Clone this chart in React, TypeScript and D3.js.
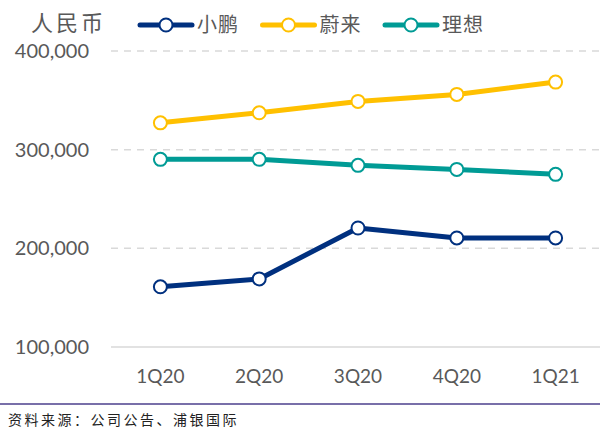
import React, { useEffect } from "react";
import * as d3 from "d3";

const quarters = ["1Q20", "2Q20", "3Q20", "4Q20", "1Q21"];
const xpeng = [161000, 169000, 220600, 210500, 210500];
const nio = [327200, 337400, 348900, 356000, 368500];
const liAuto = [290200, 290200, 284100, 280000, 275000];
const yTicks = [100000, 200000, 300000, 400000];

const seriesNames = ["小鹏", "蔚来", "理想"];
const seriesColors = ["#00307F", "#FFC000", "#009B95"];

const W = 600;
const H = 441;

export default function App() {
  useEffect(() => {
    document.body.style.margin = "0";
  }, []);

  const series = [xpeng, nio, liAuto];

  const x = d3.scalePoint<string>().domain(quarters).range([111, 605]).padding(0.5);
  const y = d3.scaleLinear().domain([100000, 400000]).range([347, 51]);
  const fmt = d3.format(",");

  const line = d3
    .line<number>()
    .x((_, i) => x(quarters[i]) as number)
    .y((d) => y(d));

  const numFont = "Lato, 'Open Sans', sans-serif";
  const cjkFont = "'Noto Sans CJK SC', sans-serif";

  return (
    <svg width={W} height={H} style={{ display: "block", background: "#fff" }}>
      {/* title */}
      <text x={31} y={31} fontFamily={cjkFont} fontSize={22} fill="#595959" letterSpacing={3}>
        人民币
      </text>

      {/* legend */}
      {seriesNames.map((name, i) => {
        const lx = 140 + i * 122.5;
        return (
          <g key={name}>
            <line x1={lx} x2={lx + 52} y1={25} y2={25} stroke={seriesColors[i]} strokeWidth={5} strokeLinecap="round" />
            <circle cx={lx + 26} cy={25} r={6.5} fill="#fff" stroke={seriesColors[i]} strokeWidth={2} />
            <text x={lx + 57} y={32} fontFamily={cjkFont} fontSize={20} fill="#595959" letterSpacing={1}>
              {name}
            </text>
          </g>
        );
      })}

      {/* grid */}
      {yTicks.map((t) => (
        <g key={t}>
          <line
            x1={111}
            x2={W}
            y1={y(t)}
            y2={y(t)}
            stroke="#D9D9D9"
            strokeWidth={1.5}
            strokeDasharray={t === 100000 ? undefined : "7,6"}
          />
          <text x={89} y={y(t)} dy="0.35em" textAnchor="end" fontFamily={numFont} fontSize={20} fill="#595959">
            {fmt(t)}
          </text>
        </g>
      ))}

      {/* x labels */}
      {quarters.map((q) => (
        <text key={q} x={x(q)} y={383} textAnchor="middle" fontFamily={numFont} fontSize={19} fill="#595959">
          {q}
        </text>
      ))}

      {/* lines */}
      {series.map((s, i) => (
        <g key={seriesNames[i]}>
          <path d={line(s) as string} fill="none" stroke={seriesColors[i]} strokeWidth={5} strokeLinejoin="round" />
          {s.map((v, j) => (
            <circle key={j} cx={x(quarters[j])} cy={y(v)} r={6.5} fill="#fff" stroke={seriesColors[i]} strokeWidth={2} />
          ))}
        </g>
      ))}

      {/* source */}
      <line x1={0} x2={W} y1={404} y2={404} stroke="#4B3F8C" strokeWidth={1.5} />
      <text x={8} y={425} fontFamily={cjkFont} fontSize={14} fill="#222" letterSpacing={2.5}>
        资料来源：公司公告、浦银国际
      </text>
    </svg>
  );
}
